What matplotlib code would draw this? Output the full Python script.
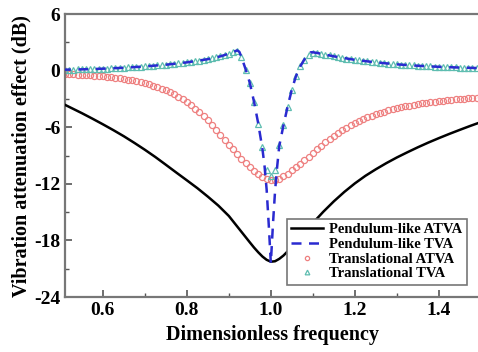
import numpy as np
import matplotlib
matplotlib.use("Agg")
import matplotlib.pyplot as plt
from matplotlib.ticker import MultipleLocator, FormatStrFormatter

plt.rcParams['font.family'] = ['Liberation Serif', 'DejaVu Serif']
plt.rcParams['font.weight'] = 'bold'
plt.rcParams['axes.unicode_minus'] = False

# Pendulum-like ATVA (solid black line)
pa_x = [0.50, 0.525, 0.55, 0.575, 0.60, 0.625, 0.65, 0.675, 0.70, 0.725, 0.75, 0.775,
        0.80, 0.825, 0.85, 0.875, 0.90, 0.925, 0.95, 0.96, 0.97, 0.98, 0.99, 1.00,
        1.01, 1.02, 1.03, 1.04, 1.05, 1.075, 1.10, 1.125, 1.15, 1.175, 1.20, 1.225,
        1.25, 1.275, 1.30, 1.325, 1.35, 1.375, 1.40, 1.425, 1.45, 1.475, 1.50]
pa_y = [-3.40, -3.95, -4.50, -5.08, -5.68, -6.30, -6.95, -7.65, -8.38, -9.15, -9.97, -10.80,
        -11.62, -12.45, -13.35, -14.30, -15.40, -16.80, -18.20, -18.75, -19.25, -19.70, -20.05, -20.25,
        -20.20, -19.95, -19.60, -19.15, -18.65, -17.40, -16.15, -14.95, -13.85, -12.85, -11.95, -11.15,
        -10.45, -9.80, -9.20, -8.65, -8.12, -7.62, -7.15, -6.70, -6.27, -5.85, -5.45]

# Pendulum-like TVA (dashed blue line)
pt_x = [0.50, 0.55, 0.60, 0.65, 0.70, 0.75, 0.80, 0.85, 0.88, 0.90, 0.91, 0.92, 0.925,
        0.93, 0.94, 0.95, 0.96, 0.97, 0.98, 0.985, 0.99, 0.995, 1.00, 1.005, 1.01, 1.015,
        1.02, 1.03, 1.04, 1.05, 1.06, 1.07, 1.08, 1.09, 1.095, 1.10, 1.11, 1.13, 1.15,
        1.20, 1.25, 1.30, 1.35, 1.40, 1.45, 1.50]
pt_y = [0.10, 0.14, 0.21, 0.31, 0.45, 0.63, 0.88, 1.22, 1.52, 1.80, 1.98, 2.15, 2.00,
        1.45, 0.15, -1.30, -3.30, -5.60, -8.30, -10.10, -12.60, -16.30, -20.40, -16.30, -12.80, -10.20,
        -8.00, -5.80, -3.80, -2.00, -0.55, 0.45, 1.20, 1.75, 1.95, 1.95, 1.88, 1.70, 1.52,
        1.15, 0.88, 0.67, 0.52, 0.41, 0.33, 0.27]

# Translational ATVA / TVA (markers), frequency step 0.01
tr_x = np.round(np.arange(0.50, 1.505, 0.01), 2)
ta_y = [-0.35, -0.36, -0.38, -0.40, -0.42, -0.45, -0.48, -0.51, -0.54, -0.57,
        -0.61, -0.65, -0.70, -0.75, -0.81, -0.88, -0.95, -1.03, -1.12, -1.22,
        -1.33, -1.45, -1.58, -1.73, -1.90, -2.08, -2.28, -2.50, -2.75, -3.02,
        -3.32, -3.65, -4.01, -4.40, -4.82, -5.27, -5.75, -6.25, -6.77, -7.30,
        -7.83, -8.35, -8.86, -9.35, -9.82, -10.25, -10.65, -11.00, -11.28, -11.48,
        -11.58, -11.56, -11.43, -11.20, -10.90, -10.55, -10.25, -9.90, -9.52, -9.13,
        -8.74, -8.35, -7.97, -7.60, -7.25, -6.92, -6.61, -6.32, -6.05, -5.80,
        -5.57, -5.35, -5.15, -4.96, -4.79, -4.63, -4.48, -4.34, -4.21, -4.09,
        -3.98, -3.88, -3.79, -3.70, -3.62, -3.54, -3.47, -3.40, -3.34, -3.28,
        -3.22, -3.17, -3.12, -3.07, -3.03, -2.99, -2.95, -2.92, -2.89, -2.86,
        -2.83]
tt_y = [0.10, 0.10, 0.11, 0.12, 0.13, 0.14, 0.15, 0.16, 0.18, 0.19,
        0.21, 0.23, 0.25, 0.27, 0.29, 0.31, 0.34, 0.36, 0.39, 0.42,
        0.45, 0.48, 0.52, 0.55, 0.59, 0.63, 0.68, 0.72, 0.77, 0.82,
        0.88, 0.94, 1.00, 1.07, 1.14, 1.22, 1.31, 1.41, 1.52, 1.64,
        1.78, 1.93, 2.05, 1.40, 0.10, -1.30, -3.30, -5.60, -8.10, -10.50,
        -11.20, -10.50, -7.90, -5.80, -3.80, -2.00, -0.55, 0.45, 1.15, 1.70,
        1.90, 1.88, 1.80, 1.70, 1.61, 1.52, 1.44, 1.36, 1.29, 1.22,
        1.15, 1.09, 1.03, 0.98, 0.93, 0.88, 0.83, 0.79, 0.75, 0.71,
        0.67, 0.64, 0.61, 0.58, 0.55, 0.52, 0.50, 0.47, 0.45, 0.43,
        0.41, 0.39, 0.37, 0.36, 0.34, 0.33, 0.31, 0.30, 0.29, 0.28,
        0.27]

fig = plt.figure(figsize=(4.78, 3.52), dpi=100)
ax = fig.add_axes([0.136, 0.156, 0.870, 0.804])

ax.plot(pa_x, pa_y, color='black', lw=1.8, label='Pendulum-like ATVA', zorder=3)
ax.plot(pt_x, pt_y, color='#2a2ad0', lw=1.8, ls=(0, (4, 3)), label='Pendulum-like TVA', zorder=4)
ax.plot(tr_x, ta_y, ls='none', marker='o', ms=4.4, mfc='none', mec='#ee8080', mew=0.9,
        label='Translational ATVA', zorder=2)
ax.plot(tr_x, tt_y, ls='none', marker='^', ms=4.8, mfc='none', mec='#5ebdb0', mew=0.9,
        label='Translational TVA', zorder=2)

ax.set_xlim(0.51, 1.5)
ax.set_ylim(-24, 6)
ax.xaxis.set_major_locator(MultipleLocator(0.2))
ax.xaxis.set_minor_locator(MultipleLocator(0.1))
ax.yaxis.set_major_locator(MultipleLocator(6))
ax.yaxis.set_minor_locator(MultipleLocator(3))
ax.xaxis.set_major_formatter(FormatStrFormatter('%.1f'))
ax.tick_params(which='both', direction='in', labelsize=14, color='#555555')
ax.tick_params(which='major', length=5, width=1.2)
ax.tick_params(which='minor', length=3, width=1.0)
for s in ax.spines.values():
    s.set_color('#777777')
    s.set_linewidth(1.6)

ax.set_xlabel('Dimensionless frequency', fontsize=14.5, fontweight='bold', labelpad=4)
ax.set_ylabel('Vibration attenuation effect (dB)', fontsize=14.5, fontweight='bold', labelpad=2)

leg = ax.legend(loc='lower right', bbox_to_anchor=(0.984, 0.018), fontsize=10.5,
                fancybox=False, framealpha=1, edgecolor='#777777', borderpad=0.3,
                labelspacing=0.1, handlelength=2.2, handletextpad=0.4, markerscale=0.7)
leg.get_frame().set_linewidth(1.2)

fig.savefig('out.png', dpi=100)
